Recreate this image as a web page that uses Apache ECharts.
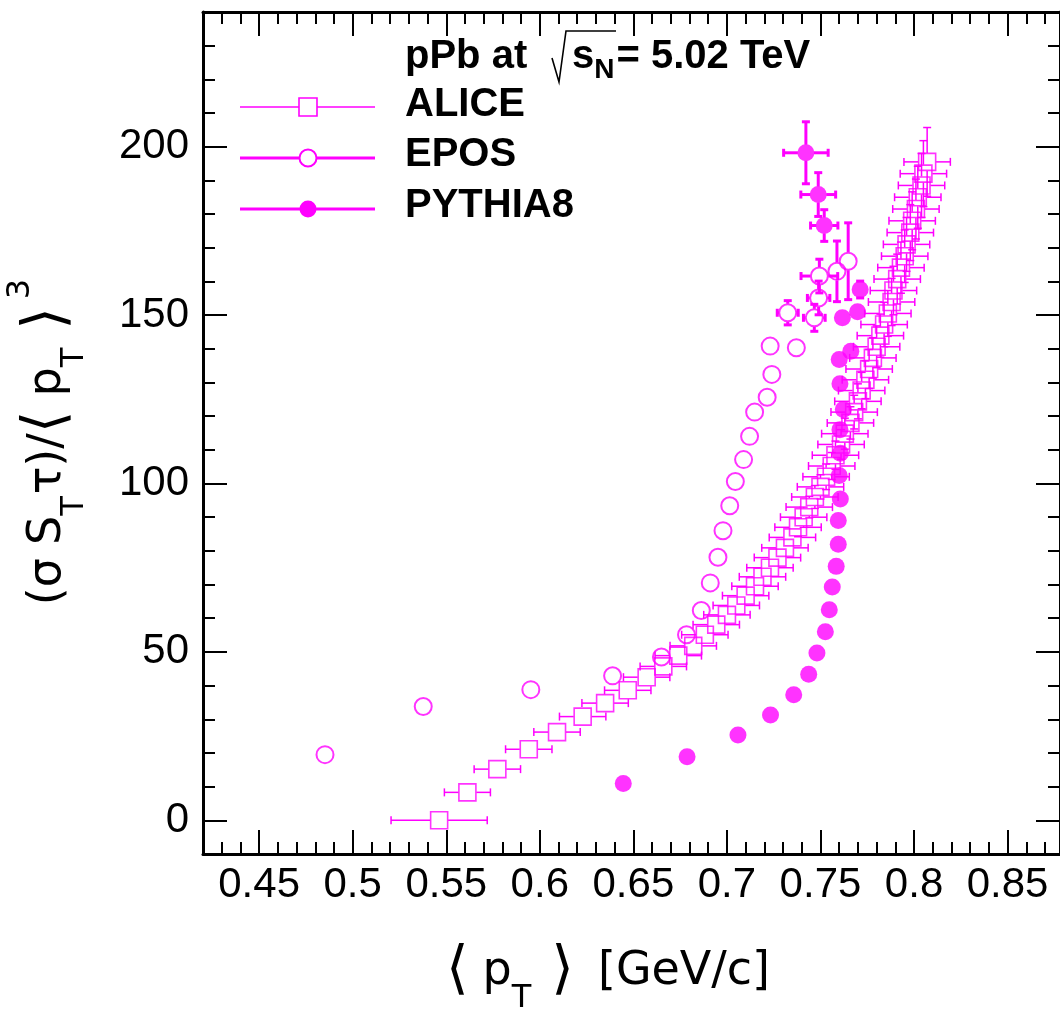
<!DOCTYPE html>
<html><head><meta charset="utf-8">
<script src="https://cdn.jsdelivr.net/npm/echarts@6/dist/echarts.min.js"></script>
<style>html,body{margin:0;padding:0;background:#fff}#c{width:1060px;height:1017px}</style>
</head><body><div id="c"></div>
<script>
// ---------------- data ----------------
const aliceX = [0.5462,0.5613,0.5773,0.5941,0.6092,0.6229,0.6349,0.6470,0.6571,0.6660,0.6740,0.6820,0.6882,0.6943,
  0.7000,0.7050,0.7100,0.7150,0.7190,0.7230,0.7270,0.7310,0.7350,0.7380,0.7410,0.7440,0.7470,0.7500,0.7530,0.7560,
  0.7580,0.7610,0.7630,0.7660,0.7680,0.7700,0.7720,0.7740,0.7760,0.7780,0.7800,0.7820,0.7840,0.7860,0.7880,0.7890,
  0.7910,0.7930,0.7950,0.7960,0.7980,0.7990,0.8010,0.8020,0.8040,0.8050,0.8070];
const aliceY = [0.0,8.3,15.2,21.1,26.2,30.8,34.8,38.6,42.5,45.7,48.9,51.8,55.1,58.1,
  61.0,63.8,66.7,69.5,72.3,75.0,78.0,80.9,84.0,87.0,90.0,93.0,96.0,99.0,102.0,105.2,
  108.4,111.6,114.8,118.0,121.2,124.4,127.6,130.8,134.0,137.3,140.6,143.9,147.2,150.5,153.9,157.3,
  160.7,164.1,167.5,171.0,174.5,178.0,181.5,185.0,188.5,192.0,195.5];
const aliceXErr = [0.0257,0.0123,0.0124,0.0124,0.0124,0.0124,0.0124,0.0124,0.0124,0.0124,0.0124,0.0124,0.0124,0.0124,
  0.0124,0.0124,0.0124,0.0124,0.0124,0.0124,0.0124,0.0124,0.0124,0.0124,0.0124,0.0124,0.0124,0.0124,0.0124,0.0124,
  0.0124,0.0124,0.0124,0.0124,0.0124,0.0124,0.0124,0.0124,0.0124,0.0124,0.0124,0.0124,0.0124,0.0124,0.0124,0.0124,
  0.0124,0.0124,0.0124,0.0124,0.0124,0.0124,0.0124,0.0124,0.0124,0.0124,0.0124];
const aliceYErr = [1.0,1.0,1.0,1.0,1.0,1.2,1.2,1.2,1.3,1.3,1.4,1.5,1.5,1.6,
  1.7,1.8,1.9,2.0,2.1,2.2,2.3,2.4,2.6,2.8,3.0,3.2,3.4,3.6,3.8,4.0,
  4.2,4.4,4.6,4.8,5.0,5.2,5.4,5.6,5.8,6.0,6.2,6.4,6.6,6.8,7.0,7.2,
  7.4,7.6,7.8,8.0,8.3,8.6,8.9,9.2,9.5,9.8,10.2];

const eposX = [0.4852,0.5377,0.5952,0.6389,0.6650,0.6784,0.6863,0.6911,0.6952,0.6979,0.7015,0.7045,0.7089,0.7121,
  0.7148,0.7215,0.7240,0.7231,0.7371,0.7325,0.7467,0.7490,0.7494,0.7588,0.7648];
const eposY = [19.5,33.8,38.8,42.9,48.5,55.1,62.3,70.5,78.1,86.0,93.4,100.6,107.1,114.0,
  121.2,125.6,132.4,140.8,140.3,150.7,149.2,155.1,161.6,163.0,166.0];
const eposXErr = [0,0,0,0,0,0,0,0,0,0,0,0,0,0,0,0,0,0,0.003,0.0056,0.0058,0.006,0.0098,0.003,0.004];
const eposYErr = [0,0,0,0,0,0,0,0,0,0,0,0,0,0,0,0,0,0,1.5,3.6,4.0,5.0,5.0,9.0,11.4];

const pythiaX = [0.6446,0.6787,0.7059,0.7233,0.7357,0.7437,0.7481,0.7526,0.7547,0.7563,0.7584,0.7595,0.7595,0.7606,
  0.7600,0.7606,0.7604,0.7622,0.7604,0.7600,0.7662,0.7617,0.7698,0.7712,0.7520,0.7488,0.7422];
const pythiaY = [10.9,18.9,25.3,31.3,37.3,43.4,49.7,56.0,62.5,69.3,75.4,82.0,89.0,95.4,
  102.4,109.0,116.0,122.0,129.6,136.8,139.3,149.2,151.0,157.6,176.6,185.8,198.2];
const pythiaXErr = [0,0,0,0,0,0,0,0,0,0,0,0,0,0,0,0,0,0,0,0,0,0,0.002,0.002,0.0073,0.0093,0.0119];
const pythiaYErr = [0,0,0,0,0,0,0,0,0,0,0,0,0,0,0,0,0,0,0,0,0,1.5,2.0,2.5,4.7,6.5,9.2];

const xTickRange = [0.42, 0.878];
const yTickRange = [-10, 240];

// ---------------- drawing ----------------
const COLOR = '#ff00ff';
const FONT = "'Liberation Sans', 'DejaVu Sans', sans-serif";
const TFONT = "'DejaVu Sans', sans-serif";
const chart = echarts.init(document.getElementById('c'), null, {renderer: 'canvas'});

function rows(xs, ys, xe, ye) { return xs.map((x, i) => [x, ys[i], xe[i], ye[i]]); }

const mctx = document.createElement('canvas').getContext('2d');
function measure(t, size, weight, fam) { mctx.font = (weight || 'normal') + ' ' + size + 'px ' + fam; return mctx.measureText(t).width; }
// pieces: [text, fontSize, dy, gapBefore]
function scripted(pieces, fam, weight, center) {
  let x = 0; const kids = [];
  pieces.forEach(p => {
    x += (p[3] || 0);
    kids.push({type: 'text', x: x, y: p[2] || 0, style: {text: p[0], fontSize: p[1], fontFamily: fam,
      fontWeight: weight, fill: '#000', verticalAlign: 'middle', align: 'left'}});
    x += measure(p[0], p[1], weight, fam);
  });
  if (center) kids.forEach(k => { k.x -= x / 2; });
  return kids;
}

function errRender(r, lw, cap) {
  return function (params, api) {
    const x = api.value(0), y = api.value(1), ex = api.value(2), ey = api.value(3);
    const c = api.coord([x, y]);
    const l = api.coord([x - ex, y]), rt = api.coord([x + ex, y]);
    const t = api.coord([x, y + ey]), b = api.coord([x, y - ey]);
    const children = [];
    const style = {stroke: COLOR, lineWidth: lw, fill: null};
    const push = (x1, y1, x2, y2) => children.push({type: 'line', shape: {x1, y1, x2, y2}, style});
    if (c[0] - l[0] > r) { push(l[0], c[1], c[0] - r, c[1]); push(l[0], c[1] - cap, l[0], c[1] + cap); }
    if (rt[0] - c[0] > r) { push(c[0] + r, c[1], rt[0], c[1]); push(rt[0], c[1] - cap, rt[0], c[1] + cap); }
    if (c[1] - t[1] > r) { push(c[0], t[1], c[0], c[1] - r); push(c[0] - cap, t[1], c[0] + cap, t[1]); }
    if (b[1] - c[1] > r) { push(c[0], c[1] + r, c[0], b[1]); push(c[0] - cap, b[1], c[0] + cap, b[1]); }
    return {type: 'group', children};
  };
}

const axisCommon = {
  type: 'value', splitNumber: 9, scale: false,
  axisLine: {show: true, onZero: false, lineStyle: {color: '#000', width: 3}},
  axisTick: {show: true, inside: true, length: 24, lineStyle: {color: '#000', width: 2}},
  minorTick: {show: true, splitNumber: 5, length: 12, lineStyle: {color: '#000', width: 2}},
  splitLine: {show: false}, minorSplitLine: {show: false}
};
const labelStyle = {color: '#000', fontSize: 42, fontFamily: FONT, showMinLabel: false, showMaxLabel: false};

const xTitle = scripted([['⟨', 58, 0, 0], ['p', 46, 0, 14], ['T', 32, 27, 0], ['⟩', 58, 0, 20], ['[GeV/c]', 46, 0, 24]], TFONT, 'normal', true);
const yTitle = scripted([['(σ', 46, 0, 0], ['S', 46, 0, 13], ['T', 32, 27, 0], ['τ)/', 46, 0, 2], ['⟨', 58, 0, 0], ['p', 46, 0, 14],
  ['T', 32, 27, 0], ['⟩', 58, 0, 18], ['3', 32, -27, 8]], TFONT, 'normal', true);
const header = scripted([['s', 40, 0, 0], ['N', 28, 13, 0], ['= 5.02 TeV', 40, 0, 2]], FONT, 'bold', false);

const option = {
  animation: false,
  backgroundColor: '#fff',
  grid: {left: 203, top: 12, width: 860.4, height: 842, containLabel: false},
  xAxis: [
    Object.assign({}, axisCommon, {min: xTickRange[0], max: xTickRange[1], position: 'bottom',
      axisLabel: Object.assign({}, labelStyle, {margin: 10})}),
    Object.assign({}, axisCommon, {min: xTickRange[0], max: xTickRange[1], position: 'top',
      axisLabel: {show: false}})
  ],
  yAxis: [
    Object.assign({}, axisCommon, {min: yTickRange[0], max: yTickRange[1], splitNumber: 5, position: 'left',
      axisLabel: Object.assign({}, labelStyle, {margin: 14})}),
    Object.assign({}, axisCommon, {min: yTickRange[0], max: yTickRange[1], splitNumber: 5, position: 'right',
      axisLabel: {show: false}})
  ],
  series: [
    {type: 'custom', name: 'ALICE err', renderItem: errRender(9, 1.5, 4), data: rows(aliceX, aliceY, aliceXErr, aliceYErr),
      encode: {x: 0, y: 1}, silent: true, z: 2},
    {type: 'scatter', name: 'ALICE', data: rows(aliceX, aliceY, aliceXErr, aliceYErr), symbol: 'rect', symbolSize: 17,
      itemStyle: {color: 'rgba(0,0,0,0)', borderColor: COLOR, borderWidth: 1.6}, silent: true, z: 3},
    {type: 'custom', name: 'EPOS err', renderItem: errRender(9, 3, 4), data: rows(eposX, eposY, eposXErr, eposYErr),
      encode: {x: 0, y: 1}, silent: true, z: 2},
    {type: 'scatter', name: 'EPOS', data: rows(eposX, eposY, eposXErr, eposYErr), symbol: 'circle', symbolSize: 17,
      itemStyle: {color: 'rgba(0,0,0,0)', borderColor: COLOR, borderWidth: 2}, silent: true, z: 3},
    {type: 'custom', name: 'PYTHIA8 err', renderItem: errRender(8, 3, 4), data: rows(pythiaX, pythiaY, pythiaXErr, pythiaYErr),
      encode: {x: 0, y: 1}, silent: true, z: 2},
    {type: 'scatter', name: 'PYTHIA8', data: rows(pythiaX, pythiaY, pythiaXErr, pythiaYErr), symbol: 'circle', symbolSize: 17,
      itemStyle: {color: COLOR}, silent: true, z: 3}
  ],
  graphic: [
    // axis titles
    {type: 'group', x: 608, y: 972, z: 10, children: xTitle},
    {type: 'group', x: 48, y: 442, rotation: Math.PI / 2, z: 10, children: yTitle},
    // legend header
    {type: 'text', x: 405, y: 57, z: 10, style: {text: 'pPb at', fontSize: 40, fontWeight: 'bold', fontFamily: FONT,
      fill: '#000', verticalAlign: 'middle'}},
    {type: 'polyline', z: 10, shape: {points: [[552, 58], [559, 82], [566, 31], [616, 31]]},
      style: {stroke: '#000', lineWidth: 1.6, fill: null}},
    {type: 'group', x: 572, y: 57, z: 10, children: header},
    // legend entries
    {type: 'line', z: 10, shape: {x1: 240, y1: 107, x2: 375, y2: 107}, style: {stroke: COLOR, lineWidth: 1.5}},
    {type: 'rect', z: 11, shape: {x: 299, y: 98, width: 18, height: 18}, style: {stroke: COLOR, lineWidth: 1.6, fill: '#fff'}},
    {type: 'text', x: 405, y: 105, z: 10, style: {text: 'ALICE', fontSize: 40, fontWeight: 'bold', fontFamily: FONT, fill: '#000', verticalAlign: 'middle'}},
    {type: 'line', z: 10, shape: {x1: 240, y1: 158, x2: 375, y2: 158}, style: {stroke: COLOR, lineWidth: 3}},
    {type: 'circle', z: 11, shape: {cx: 308, cy: 158, r: 8.5}, style: {stroke: COLOR, lineWidth: 2, fill: '#fff'}},
    {type: 'text', x: 405, y: 155, z: 10, style: {text: 'EPOS', fontSize: 40, fontWeight: 'bold', fontFamily: FONT, fill: '#000', verticalAlign: 'middle'}},
    {type: 'line', z: 10, shape: {x1: 240, y1: 209, x2: 375, y2: 209}, style: {stroke: COLOR, lineWidth: 3}},
    {type: 'circle', z: 11, shape: {cx: 308, cy: 209, r: 8.5}, style: {fill: COLOR}},
    {type: 'text', x: 405, y: 206, z: 10, style: {text: 'PYTHIA8', fontSize: 40, fontWeight: 'bold', fontFamily: FONT, fill: '#000', verticalAlign: 'middle'}}
  ]
};
chart.setOption(option);
</script>
</body></html>
